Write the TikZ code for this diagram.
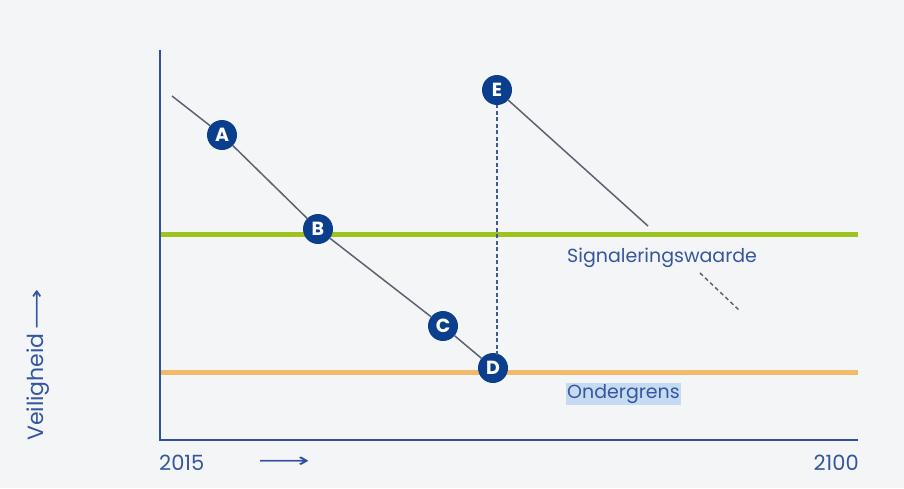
\documentclass[tikz,border=0pt]{standalone}
\usepackage{fontspec}
\setmainfont{Poppins}
\newfontfamily\symfont{DejaVu Sans}
\usetikzlibrary{arrows.meta}
\definecolor{bgc}{HTML}{F4F5F7}
\definecolor{axisblue}{HTML}{2F4FA0}
\definecolor{txtblue}{HTML}{3556A0}
\definecolor{signal}{HTML}{9DC41E}
\definecolor{lower}{HTML}{F0BA6A}
\definecolor{dotblue}{HTML}{0B3F8E}
\definecolor{trend}{HTML}{5A6370}
\definecolor{hilite}{HTML}{C6DBF1}
\tikzset{
  pt/.style={circle,fill=dotblue,minimum size=30pt,inner sep=0pt,text=white,font=\bfseries\fontsize{19}{19}\selectfont},
  lbl/.style={text=txtblue,font=\fontsize{19}{19}\selectfont,inner sep=1pt},
  yr/.style={text=txtblue,font=\fontsize{21}{21}\selectfont,inner sep=1pt},
  trendline/.style={draw=trend,line width=1.5pt},
  dashline/.style={draw=trend,line width=1.5pt,dash pattern=on 4pt off 3pt},
}
\newcommand{\longarr}{{\symfont\fontsize{20}{20}\selectfont\scalebox{1.8}[1]{⟶}}}
\newcommand{\vertarr}{{\symfont\fontsize{20}{20}\selectfont\scalebox{1.4}[1]{⟶}}}
\begin{document}
\begin{tikzpicture}[x=1pt,y=-1pt]
\fill[bgc] (0,0) rectangle (904,488);
\useasboundingbox (0,0) rectangle (904,488);
% threshold lines
\draw[signal,line width=5pt] (160,234) -- (858,234);
\draw[lower,line width=5pt] (160,372) -- (858,372);
% axes
\draw[axisblue,line width=2.5pt] (160,50) -- (160,440) -- (858,440);
% points
\node[pt] (A) at (222,135) {A};
\node[pt] (B) at (318,229) {B};
\node[pt] (C) at (443,326) {C};
\node[pt] (D) at (493,368) {D};
\node[pt] (E) at (497,90) {E};
\coordinate (start) at (172,96);
\coordinate (eEnd) at (648,226);
\coordinate (dStart) at (700,273);
\coordinate (dEnd) at (740,311);
\coordinate (dTop) at (497,355);
% trend lines
\draw[trendline] (start) -- (A);
\draw[trendline] (A) -- (B);
\draw[trendline] (B) -- (C);
\draw[trendline] (C) -- (D);
\draw[trendline] (E) -- (eEnd);
\draw[dashline] (dStart) -- (dEnd);
\draw[axisblue!80!gray,line width=1.3pt,dash pattern=on 4pt off 2.5pt] (dTop) -- (E);
% labels
\node[lbl,anchor=west] (sig) at (566,258) {Signaleringswaarde};
\node[lbl,anchor=west,fill=hilite] (ond) at (566,394) {Ondergrens};
\node[yr,anchor=west] (y0) at (158,463) {2015};
\node[yr,anchor=east] (y1) at (860,463) {2100};
\node[text=axisblue,anchor=center,inner sep=0pt] (xarr) at (284,462) {\longarr};
\node[lbl,rotate=90,anchor=west,font=\fontsize{22}{22}\selectfont] (vl) at (38,442) {Veiligheid\,{\fontsize{17}{17}\selectfont\vertarr}};
\end{tikzpicture}
\end{document}
